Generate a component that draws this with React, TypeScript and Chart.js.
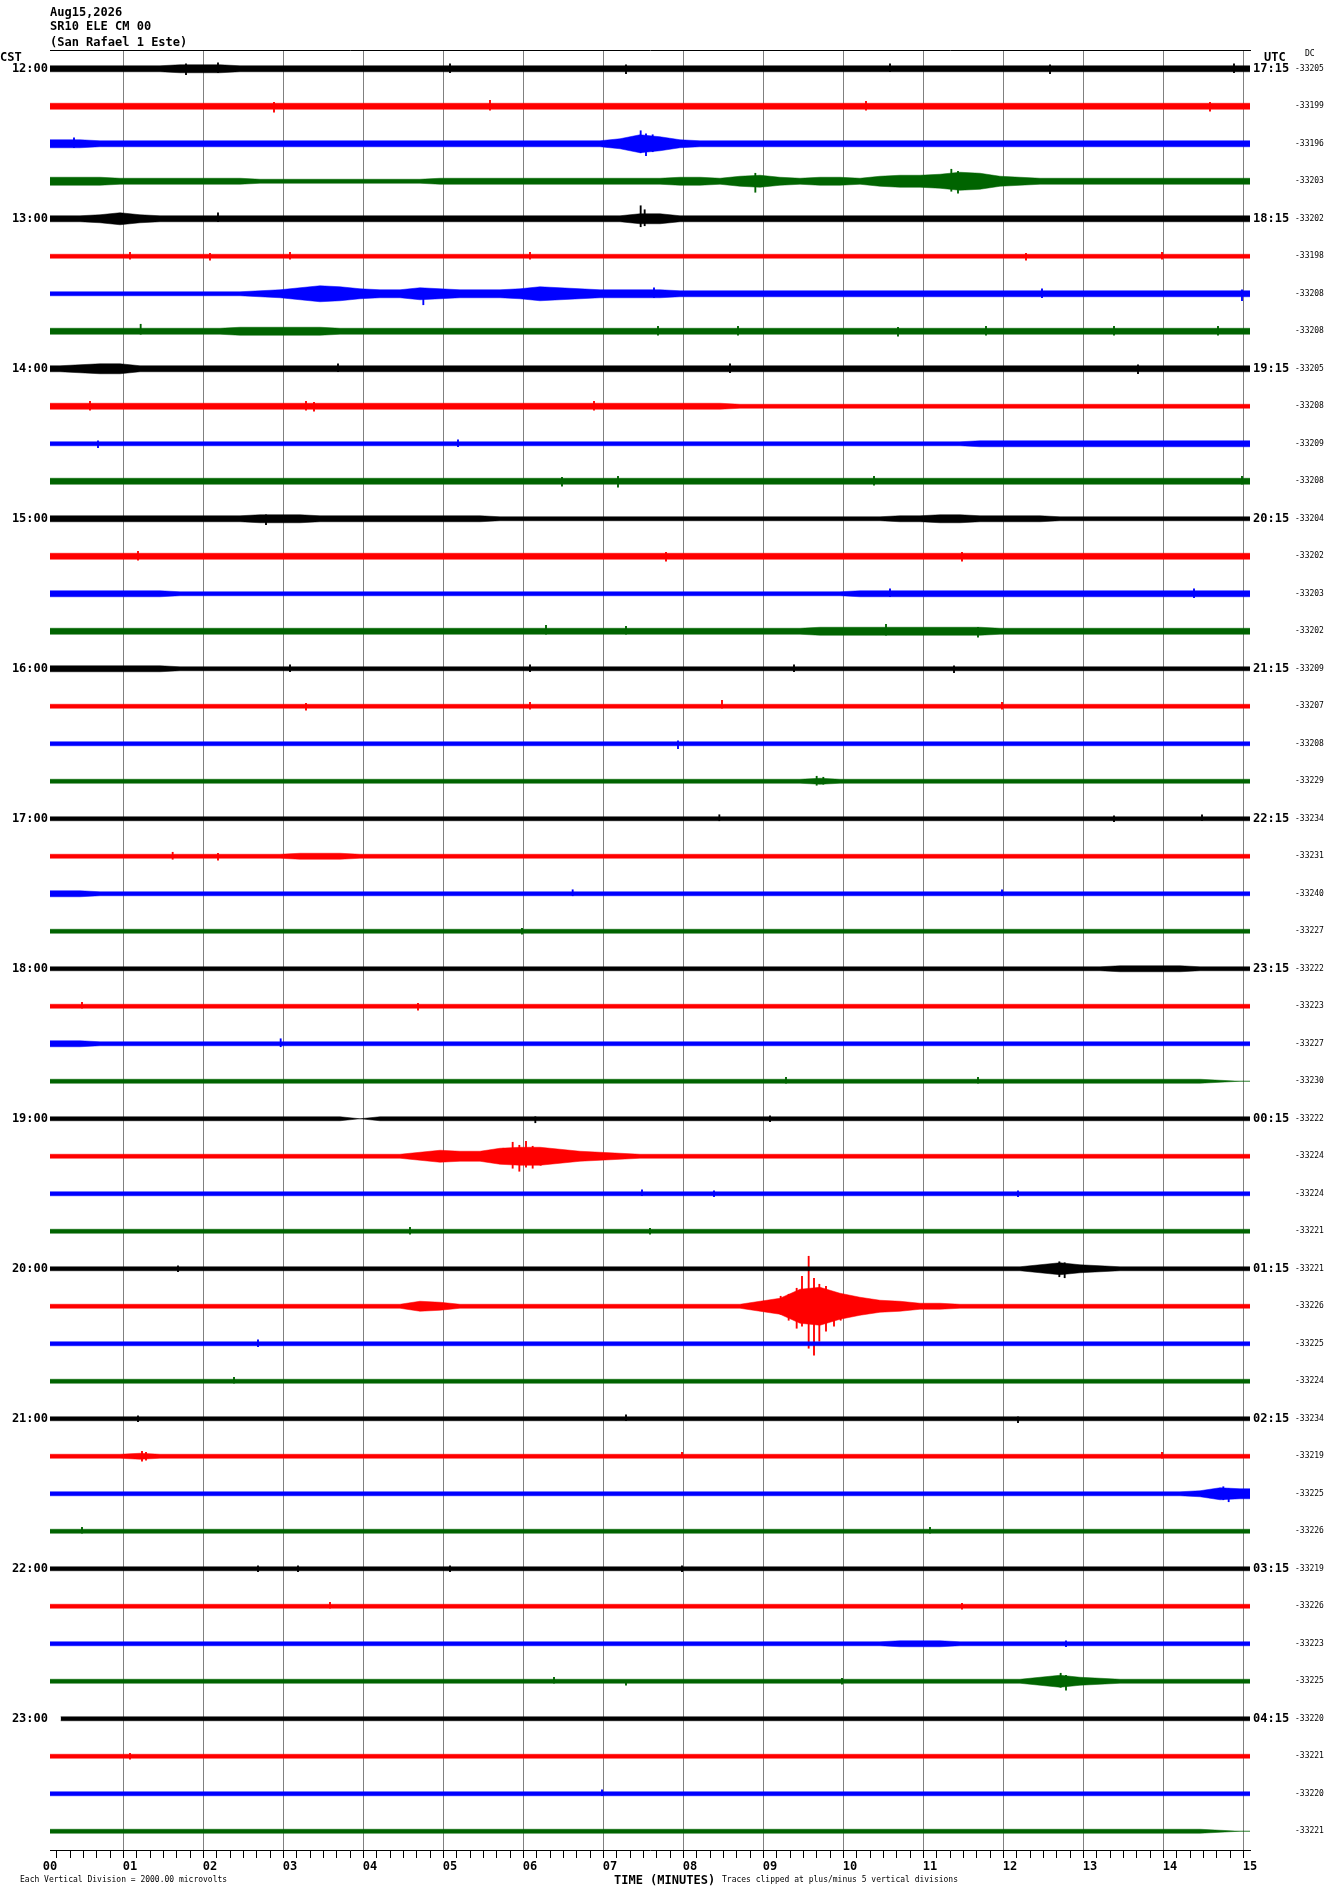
import { useEffect, useRef } from "react"
import { Chart, registerables } from "chart.js"

Chart.register(...registerables)

const CST_HOURS = ["12:00", "13:00", "14:00", "15:00", "16:00", "17:00", "18:00", "19:00", "20:00", "21:00", "22:00", "23:00"]
const UTC_HOURS = ["17:15", "18:15", "19:15", "20:15", "21:15", "22:15", "23:15", "00:15", "01:15", "02:15", "03:15", "04:15"]
const MINUTE_LABELS = ["00", "01", "02", "03", "04", "05", "06", "07", "08", "09", "10", "11", "12", "13", "14", "15"]

const DC_OFFSETS = [
  -33205, -33199, -33196, -33203, -33202, -33198, -33208, -33208,
  -33205, -33208, -33209, -33208, -33204, -33202, -33203, -33202,
  -33209, -33207, -33208, -33229, -33234, -33231, -33240, -33227,
  -33222, -33223, -33227, -33230, -33222, -33224, -33224, -33221,
  -33221, -33226, -33225, -33224, -33234, -33219, -33225, -33226,
  -33219, -33226, -33223, -33225, -33220, -33221, -33220, -33221,
]

// black, red, blue, green repeat every quarter hour
const TRACE_COLORS = ["#000000", "#ff0000", "#0000ff", "#006400"]

// half-height of each trace per 15 s bin, one group of four per minute
// 0-9, then a-z = 10..35, A-Z = 36..61 (tenths of a division)
const TRACE_ENVELOPES = [
  "3333 3344 4333 3333 3333 3333 3333 3333 3333 3333 3333 3333 3333 3333 3333",
  "3333 3333 3333 3333 3333 3333 3333 3333 3333 3333 3333 3333 3333 3333 3333",
  "4433 3333 3333 3333 3333 3333 3333 5974 3333 3333 3333 3333 3333 3333 3333",
  "4443 3333 3322 2222 2223 3333 3333 3334 4356 4344 3566 7985 4333 3333 3333",
  "3346 4333 3333 3333 3333 3333 3333 3553 3333 3333 3333 3333 3333 3333 3333",
  "2222 2222 2222 2222 2222 2222 2222 2222 2222 2222 2222 2222 2222 2222 2222",
  "2222 2222 2234 6875 4465 4445 7654 4443 3333 3333 3333 3333 3333 3333 3333",
  "3333 3333 3444 4433 3333 3333 3333 3333 3333 3333 3333 3333 3333 3333 3333",
  "3455 3333 3333 3333 3333 3333 3333 3333 3333 3333 3333 3333 3333 3333 3333",
  "3333 3333 3333 3333 3333 3333 3333 3333 3322 2222 2222 2222 2222 2222 2222",
  "2222 2222 2222 2222 2222 2222 2222 2222 2222 2222 2222 2233 3333 3333 3333",
  "3333 3333 3333 3333 3333 3333 3333 3333 3333 3333 3333 3333 3333 3333 3333",
  "3333 3333 3344 4333 3333 3322 2222 2222 2222 2222 2233 4433 3322 2222 2222",
  "3333 3333 3333 3333 3333 3333 3333 3333 3333 3333 3333 3333 3333 3333 3333",
  "3333 3322 2222 2222 2222 2222 2222 2222 2222 2222 3333 3333 3333 3333 3333",
  "3333 3333 3333 3333 3333 3333 3333 3333 3333 3344 4444 4443 3333 3333 3333",
  "3333 3322 2222 2222 2222 2222 2222 2222 2222 2222 2222 2222 2222 2222 2222",
  "2222 2222 2222 2222 2222 2222 2222 2222 2222 2222 2222 2222 2222 2222 2222",
  "2222 2222 2222 2222 2222 2222 2222 2222 2222 2222 2222 2222 2222 2222 2222",
  "2222 2222 2222 2222 2222 2222 2222 2222 2222 2232 2222 2222 2222 2222 2222",
  "2222 2222 2222 2222 2222 2222 2222 2222 2222 2222 2222 2222 2222 2222 2222",
  "2222 2222 2222 3332 2222 2222 2222 2222 2222 2222 2222 2222 2222 2222 2222",
  "3322 2222 2222 2222 2222 2222 2222 2222 2222 2222 2222 2222 2222 2222 2222",
  "2222 2222 2222 2222 2222 2222 2222 2222 2222 2222 2222 2222 2222 2222 2222",
  "2222 2222 2222 2222 2222 2222 2222 2222 2222 2222 2222 2222 2222 2333 3222",
  "2222 2222 2222 2222 2222 2222 2222 2222 2222 2222 2222 2222 2222 2222 2222",
  "3322 2222 2222 2222 2222 2222 2222 2222 2222 2222 2222 2222 2222 2222 2222",
  "2222 2222 2222 2222 2222 2222 2222 2222 2222 2222 2222 2222 2222 2222 2210",
  "2222 2222 2222 2220 2222 2222 2222 2222 2222 2222 2222 2222 2222 2222 2222",
  "2222 2222 2222 2222 2246 5589 9754 3222 2222 2222 2222 2222 2222 2222 2222",
  "2222 2222 2222 2222 2222 2222 2222 2222 2222 2222 2222 2222 2222 2222 2222",
  "2222 2222 2222 2222 2222 2222 2222 2222 2222 2222 2222 2222 2222 2222 2222",
  "2222 2222 2222 2222 2222 2222 2222 2222 2222 2222 2222 2222 2464 3222 2222",
  "2222 2222 2222 2222 2254 2222 2222 2222 2225 8hjd 9653 3222 2222 2222 2222",
  "2222 2222 2222 2222 2222 2222 2222 2222 2222 2222 2222 2222 2222 2222 2222",
  "2222 2222 2222 2222 2222 2222 2222 2222 2222 2222 2222 2222 2222 2222 2222",
  "2222 2222 2222 2222 2222 2222 2222 2222 2222 2222 2222 2222 2222 2222 2222",
  "2222 3222 2222 2222 2222 2222 2222 2222 2222 2222 2222 2222 2222 2222 2222",
  "2222 2222 2222 2222 2222 2222 2222 2222 2222 2222 2222 2222 2222 2222 2365",
  "2222 2222 2222 2222 2222 2222 2222 2222 2222 2222 2222 2222 2222 2222 2222",
  "2222 2222 2222 2222 2222 2222 2222 2222 2222 2222 2222 2222 2222 2222 2222",
  "2222 2222 2222 2222 2222 2222 2222 2222 2222 2222 2222 2222 2222 2222 2222",
  "2222 2222 2222 2222 2222 2222 2222 2222 2222 2222 2233 3222 2222 2222 2222",
  "2222 2222 2222 2222 2222 2222 2222 2222 2222 2222 2222 2222 2464 3222 2222",
  "2222 2222 2222 2222 2222 2222 2222 2222 2222 2222 2222 2222 2222 2222 2222",
  "2222 2222 2222 2222 2222 2222 2222 2222 2222 2222 2222 2222 2222 2222 2222",
  "2222 2222 2222 2222 2222 2222 2222 2222 2222 2222 2222 2222 2222 2222 2222",
  "2222 2222 2222 2222 2222 2222 2222 2222 2222 2222 2222 2222 2222 2222 2210",
]

// the 23:00 trace starts a few seconds late
const TRACE_START_SEC: Record<number, number> = { 44: 8 }

// single large swings: [trace, second, up, down]
const SPIKES: [number, number, number, number][] = [
  [0, 102, 5, 6], [0, 126, 6, 4], [0, 300, 5, 4], [0, 432, 4, 5], [0, 630, 5, 3], [0, 750, 4, 5], [0, 888, 5, 4],
  [1, 168, 4, 6], [1, 330, 6, 4], [1, 612, 5, 4], [1, 870, 4, 5],
  [2, 18, 6, 4], [2, 443, 13, 9], [2, 447, 10, 12], [2, 452, 9, 8],
  [3, 529, 8, 11], [3, 676, 12, 10], [3, 681, 10, 12],
  [4, 126, 6, 3], [4, 443, 13, 8], [4, 446, 9, 7],
  [5, 60, 4, 3], [5, 120, 3, 4], [5, 180, 4, 3], [5, 360, 4, 3], [5, 732, 3, 4], [5, 834, 4, 3],
  [6, 280, 4, 11], [6, 453, 6, 4], [6, 744, 5, 4], [6, 894, 4, 7],
  [7, 68, 7, 3], [7, 456, 5, 4], [7, 516, 5, 4], [7, 636, 4, 5], [7, 702, 5, 4], [7, 798, 5, 4], [7, 876, 5, 4],
  [8, 216, 5, 3], [8, 510, 5, 4], [8, 816, 4, 5],
  [9, 30, 5, 4], [9, 192, 5, 4], [9, 198, 4, 5], [9, 408, 5, 4],
  [10, 36, 3, 4], [10, 306, 4, 3],
  [11, 384, 4, 5], [11, 426, 5, 6], [11, 618, 5, 4], [11, 894, 5, 3],
  [12, 162, 4, 6],
  [13, 66, 5, 4], [13, 462, 4, 5], [13, 684, 4, 5],
  [14, 630, 5, 3], [14, 858, 5, 4],
  [15, 372, 6, 3], [15, 432, 5, 3], [15, 627, 7, 4], [15, 696, 4, 6],
  [16, 180, 4, 3], [16, 360, 4, 3], [16, 558, 4, 3], [16, 678, 3, 4],
  [17, 192, 3, 4], [17, 360, 4, 3], [17, 504, 6, 2], [17, 714, 4, 3],
  [18, 471, 3, 5],
  [19, 575, 5, 4], [19, 580, 4, 3],
  [20, 502, 4, 2], [20, 798, 3, 3], [20, 864, 4, 2],
  [21, 92, 4, 3], [21, 126, 3, 4],
  [22, 392, 4, 2], [22, 714, 4, 2],
  [23, 354, 3, 3],
  [25, 24, 4, 2], [25, 276, 3, 4],
  [26, 173, 5, 3],
  [27, 552, 4, 2], [27, 696, 4, 2],
  [28, 364, 2, 4], [28, 540, 3, 3],
  [29, 347, 14, 12], [29, 352, 11, 15], [29, 357, 15, 11], [29, 362, 10, 12], [29, 340, 8, 7], [29, 368, 8, 9],
  [30, 444, 4, 2], [30, 498, 3, 3], [30, 726, 3, 3],
  [31, 270, 4, 3], [31, 450, 3, 3],
  [32, 96, 3, 3], [32, 757, 7, 8], [32, 761, 6, 9],
  [33, 548, 10, 8], [33, 554, 12, 14], [33, 560, 18, 22], [33, 564, 30, 20], [33, 569, 50, 42],
  [33, 573, 28, 49], [33, 577, 22, 35], [33, 582, 20, 25], [33, 588, 14, 20], [33, 593, 12, 14],
  [33, 598, 10, 9], [33, 605, 8, 8],
  [34, 156, 4, 3],
  [35, 138, 4, 2],
  [36, 66, 3, 3], [36, 432, 4, 2], [36, 726, 2, 4],
  [37, 69, 5, 5], [37, 72, 4, 4], [37, 474, 4, 1], [37, 834, 4, 2],
  [38, 880, 7, 6], [38, 884, 5, 8],
  [39, 24, 4, 2], [39, 660, 4, 2],
  [40, 156, 3, 3], [40, 186, 3, 3], [40, 300, 3, 3], [40, 474, 3, 3],
  [41, 210, 4, 2], [41, 684, 3, 3],
  [42, 762, 3, 3],
  [43, 378, 4, 2], [43, 432, 1, 4], [43, 594, 3, 3], [43, 758, 8, 6], [43, 762, 6, 9],
  [45, 60, 3, 3],
  [46, 414, 4, 2],
]

const ROW_SPAN = 37.5
const BIN_SEC = 15
const TOTAL_SEC = 900
const GRID_GRAY = "#808080"
const MONO = "'DejaVu Sans Mono', monospace"

const decodeLevel = (ch: string) => {
  const c = ch.charCodeAt(0)
  if (c >= 48 && c <= 57) return c - 48
  if (c >= 97 && c <= 122) return c - 87
  return c - 29
}

const rowCenter = (row: number) => (row + 0.5) * ROW_SPAN

function buildDatasets() {
  const datasets: any[] = []
  TRACE_ENVELOPES.forEach((env, row) => {
    const levels = env.replace(/\s/g, "").split("").map(decodeLevel)
    const start = TRACE_START_SEC[row] ?? 0
    const pts: { x: number; a: number }[] = [{ x: start, a: levels[0] }]
    levels.forEach((a, i) => {
      const x = i * BIN_SEC + BIN_SEC / 2
      if (x > start) pts.push({ x, a })
    })
    pts.push({ x: TOTAL_SEC, a: levels[levels.length - 1] })
    const color = TRACE_COLORS[row % 4]
    const c = rowCenter(row)
    const common = {
      type: "line",
      xAxisID: "x",
      yAxisID: "y",
      borderColor: color,
      backgroundColor: color,
      borderWidth: 0.5,
      pointRadius: 0,
      tension: 0,
    }
    datasets.push({ ...common, data: pts.map((p) => ({ x: p.x, y: c - p.a })), fill: false })
    datasets.push({ ...common, data: pts.map((p) => ({ x: p.x, y: c + p.a })), fill: "-1" })
  })
  TRACE_COLORS.forEach((color, k) => {
    datasets.push({
      type: "bar",
      xAxisID: "x",
      yAxisID: "y",
      data: SPIKES.filter((s) => s[0] % 4 === k).map(([row, sec, up, down]) => ({
        x: sec,
        y: [rowCenter(row) - up, rowCenter(row) + down],
      })),
      backgroundColor: color,
      barThickness: 1.2,
      grouped: false,
    })
  })
  return datasets
}

const hourTicks = () => CST_HOURS.map((_, h) => ({ value: rowCenter(h * 4) }))
const rowTicks = () => DC_OFFSETS.map((_, r) => ({ value: rowCenter(r) }))

function Helicorder() {
  const canvasRef = useRef<HTMLCanvasElement>(null)
  const chartRef = useRef<Chart | null>(null)

  useEffect(() => {
    if (!canvasRef.current) return
    if (chartRef.current) chartRef.current.destroy()

    const labelFont = { family: MONO, size: 12, weight: "bold" as const }

    chartRef.current = new Chart(canvasRef.current, {
      type: "line",
      data: { datasets: buildDatasets() },
      options: {
        animation: false,
        responsive: false,
        devicePixelRatio: 1,
        layout: { padding: { top: 50, left: 0, right: 0, bottom: 0 } },
        plugins: { legend: { display: false }, tooltip: { enabled: false } },
        scales: {
          x: {
            type: "linear",
            position: "bottom",
            min: 0,
            max: TOTAL_SEC,
            offset: false,
            ticks: {
              stepSize: 10,
              autoSkip: false,
              maxRotation: 0,
              minRotation: 0,
              padding: 2,
              color: "#000",
              font: labelFont,
              callback: (v: any) => (Number(v) % 60 === 0 ? MINUTE_LABELS[Number(v) / 60] : ""),
            },
            grid: {
              color: (ctx: any) => (ctx.tick && ctx.tick.value % 60 === 0 ? GRID_GRAY : "rgba(0,0,0,0)"),
              tickColor: "#000",
              tickLength: 8,
              lineWidth: 1,
            },
            border: { color: "#000", width: 1 },
            afterFit: (s: any) => {
              s.height = 44
            },
          },
          xTop: {
            type: "linear",
            position: "top",
            min: 0,
            max: TOTAL_SEC,
            ticks: { display: false },
            grid: { display: false, drawTicks: false },
            border: { color: "#000", width: 1 },
            afterFit: (s: any) => {
              s.height = 0
            },
          },
          y: {
            type: "linear",
            position: "left",
            min: 0,
            max: 1800,
            reverse: true,
            afterBuildTicks: (axis: any) => {
              axis.ticks = hourTicks()
            },
            ticks: {
              autoSkip: false,
              padding: 2,
              color: "#000",
              font: labelFont,
              callback: (_v: any, i: number) => CST_HOURS[i],
            },
            grid: { display: false, drawTicks: false },
            border: { display: false },
            afterFit: (s: any) => {
              s.width = 50
            },
          },
          yUtc: {
            type: "linear",
            position: "right",
            weight: 0,
            min: 0,
            max: 1800,
            reverse: true,
            afterBuildTicks: (axis: any) => {
              axis.ticks = hourTicks()
            },
            ticks: {
              autoSkip: false,
              padding: 3,
              color: "#000",
              font: labelFont,
              callback: (_v: any, i: number) => UTC_HOURS[i],
            },
            grid: { display: false, drawTicks: false },
            border: { display: false },
            afterFit: (s: any) => {
              s.width = 40
            },
          },
          yDc: {
            type: "linear",
            position: "right",
            weight: 1,
            min: 0,
            max: 1800,
            reverse: true,
            afterBuildTicks: (axis: any) => {
              axis.ticks = rowTicks()
            },
            ticks: {
              autoSkip: false,
              padding: 5,
              color: "#000",
              font: { family: MONO, size: 8 },
              callback: (_v: any, i: number) => String(DC_OFFSETS[i]),
            },
            grid: { display: false, drawTicks: false },
            border: { display: false },
            afterFit: (s: any) => {
              s.width = 40
            },
          },
        },
      },
    } as any)

    return () => {
      if (chartRef.current) {
        chartRef.current.destroy()
        chartRef.current = null
      }
    }
  }, [])

  return <canvas ref={canvasRef} width={1330} height={1894} style={{ display: "block" }} />
}

const text = (left: number, top: number, size: number, bold: boolean) => ({
  position: "absolute" as const,
  left,
  top,
  fontFamily: MONO,
  fontSize: size,
  fontWeight: bold ? 700 : 400,
  lineHeight: `${size + 2}px`,
  whiteSpace: "pre" as const,
  color: "#000",
})

export default function App() {
  return (
    <div style={{ position: "absolute", left: 0, top: 0, width: 1330, height: 1894, background: "#fff", overflow: "hidden" }}>
      <Helicorder />
      <div style={text(50, 5, 12, true)}>Aug15,2026</div>
      <div style={text(50, 19, 12, true)}>SR10 ELE CM 00</div>
      <div style={text(50, 35, 12, true)}>(San Rafael 1 Este)</div>
      <div style={text(0, 50, 12, true)}>CST</div>
      <div style={text(1264, 50, 12, true)}>UTC</div>
      <div style={text(1305, 49, 8, false)}>DC</div>
      <div style={text(20, 1875, 8, false)}>Each Vertical Division = 2000.00 microvolts</div>
      <div style={text(614, 1873, 12, true)}>TIME (MINUTES)</div>
      <div style={text(722, 1875, 8, false)}>Traces clipped at plus/minus 5 vertical divisions</div>
    </div>
  )
}
